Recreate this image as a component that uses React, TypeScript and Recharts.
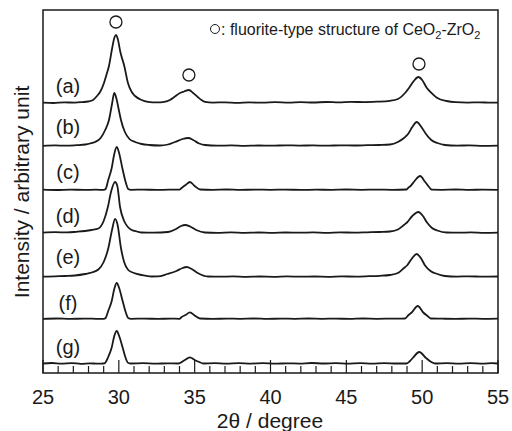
import React from 'react';
import { ComposedChart, Line, XAxis, YAxis, ReferenceArea, ReferenceDot } from 'recharts';

const FONT = '"Liberation Sans", Arial, sans-serif';
const INK = '#1a1a1a';

// sample labels, vertical offsets (arbitrary intensity units) and label heights
const sampleNames = ['(a)', '(b)', '(c)', '(d)', '(e)', '(f)', '(g)'];
const offsets = [270, 227, 183, 140, 96, 54, 9];
const labelY = [287, 246, 201, 157, 116, 70, 26];
const labelX = 26.65;

// [2θ, intensity above own baseline]
const patternA: [number, number][] = [
  [25, 0.3], [25.7, 0], [26.4, 0.6], [27.1, 0.4], [27.6, 0.9], [27.97, 1.5], [28.3, 3], [28.56, 7],
  [28.8, 12], [29.02, 20], [29.2, 29], [29.35, 37], [29.55, 54], [29.7, 65], [29.81, 68], [29.93, 64],
  [30.1, 51], [30.36, 37], [30.6, 20], [30.85, 11], [31.07, 7], [31.5, 3], [31.92, 1.2], [32.5, 0.6],
  [33.0, 1.2], [33.37, 3], [33.7, 6.5], [34.03, 10], [34.3, 11.5], [34.62, 13], [34.9, 10], [35.2, 6],
  [35.45, 3], [35.68, 1.2], [36.2, 0.4], [37, 0.7], [37.8, 0.2], [38.6, 0.6], [39.5, 0.3], [40.3, 0.8],
  [41.2, 0.4], [42, 0.9], [42.8, 0.5], [43.7, 1], [44.5, 0.6], [45.3, 1.1], [46.2, 0.9], [47.0, 1.3],
  [47.88, 2.2], [48.4, 4], [48.87, 10], [49.13, 15], [49.45, 22], [49.75, 26], [50.0, 23], [50.31, 15],
  [50.62, 10], [51.0, 5], [51.61, 2], [52.2, 0.8], [53, 0.4], [53.8, 0.7], [54.5, 0.3], [55, 0.4],
];
const patternB: [number, number][] = [
  [25, 0.2], [25.8, 0.6], [26.5, 0.3], [27.2, 0.8], [27.8, 1.5], [28.1, 2.5], [28.43, 4], [28.8, 8],
  [29.1, 16], [29.35, 26], [29.55, 42], [29.7, 53], [29.85, 47], [30.0, 36], [30.14, 26], [30.4, 14],
  [30.7, 7], [31.07, 4], [31.5, 2], [32.0, 1], [32.7, 0.5], [33.24, 1.5], [33.7, 4], [34.2, 7],
  [34.58, 8], [34.9, 6], [35.3, 2.5], [35.68, 1], [36.5, 0.3], [37.4, 0.6], [38.3, 0.2], [39.2, 0.5],
  [40.1, 0.3], [41, 0.7], [41.9, 0.4], [42.8, 0.6], [43.7, 0.3], [44.6, 0.7], [45.5, 0.5], [46.4, 0.8],
  [47.2, 1], [47.88, 1.5], [48.4, 4], [48.8, 8], [49.07, 12], [49.35, 19], [49.64, 24], [49.95, 19],
  [50.25, 12], [50.6, 6], [51.0, 3], [51.5, 1], [52.3, 0.4], [53.1, 0.6], [54, 0.2], [55, 0.4],
];
const patternC: [number, number][] = [
  [25, 0.3], [25.9, 0], [26.8, 0.4], [27.7, 0.1], [28.5, 0.3], [29.0, 0.1], [29.13, 1], [29.3, 10],
  [29.53, 22], [29.7, 36], [29.86, 43], [30.0, 38], [30.23, 22], [30.45, 8], [30.62, 1], [30.8, 0.2],
  [31.6, 0.4], [32.5, 0.1], [33.3, 0.3], [34.0, 0.3], [34.14, 2], [34.4, 5], [34.69, 8], [35.0, 4],
  [35.35, 0.5], [36.2, 0.2], [37.1, 0.5], [38, 0.1], [39, 0.4], [40, 0.2], [41, 0.4], [42, 0.1],
  [43, 0.3], [44, 0.2], [45, 0.5], [46, 0.2], [47, 0.4], [48, 0.2], [48.97, 0.5], [49.1, 2.5],
  [49.2, 3.5], [49.5, 9], [49.86, 14], [50.2, 8], [50.51, 2], [50.62, 0.3], [51.3, 0.2], [52.2, 0.5],
  [53.1, 0.1], [54, 0.4], [55, 0.2],
];
const patternD: [number, number][] = [
  [25, 0.4], [25.8, 0.8], [26.6, 0.6], [27.2, 1.2], [27.77, 2], [28.2, 3], [28.65, 4.5], [29.0, 12],
  [29.27, 25.5], [29.5, 42], [29.75, 51], [29.9, 47], [30.08, 26], [30.35, 12], [30.6, 6], [30.85, 3],
  [31.2, 1.5], [31.51, 0.5], [32.3, 0.3], [33.24, 1], [33.7, 3.5], [34.1, 7], [34.36, 8], [34.7, 6.5],
  [35.1, 3], [35.68, 0.5], [36.5, 0.2], [37.4, 0.6], [38.3, 0.2], [39.2, 0.5], [40.1, 0.1], [41, 0.5],
  [41.9, 0.3], [42.8, 0.6], [43.7, 0.2], [44.6, 0.6], [45.5, 0.4], [46.4, 0.7], [47.2, 1], [47.88, 1.5],
  [48.4, 3.5], [48.8, 8], [49.0, 10.5], [49.35, 17], [49.75, 21], [50.05, 17], [50.32, 10.5], [50.65, 5],
  [51.0, 2.5], [51.62, 0.5], [52.4, 0.3], [53.2, 0.6], [54.1, 0.2], [55, 0.4],
];
const patternE: [number, number][] = [
  [25, 0.3], [25.8, 0.7], [26.5, 1], [27.1, 1.5], [27.77, 3], [28.2, 4.5], [28.65, 7.5], [29.0, 15],
  [29.31, 29], [29.55, 47], [29.75, 58], [29.92, 52], [30.14, 29], [30.35, 15], [30.62, 7], [31.0, 4],
  [31.5, 2], [32.17, 0.5], [32.58, 0.6], [33.2, 3], [33.8, 6], [34.2, 9], [34.47, 10], [34.8, 8],
  [35.2, 4], [35.88, 0.5], [36.7, 0.3], [37.5, 0.6], [38.4, 0.2], [39.3, 0.5], [40.2, 0.2], [41.1, 0.6],
  [42, 0.3], [42.9, 0.5], [43.8, 0.2], [44.7, 0.6], [45.6, 0.4], [46.5, 0.8], [47.2, 1.2], [47.88, 2],
  [48.4, 4], [48.8, 9], [49.0, 11.5], [49.3, 18], [49.64, 23], [49.95, 18], [50.19, 11.5], [50.55, 6],
  [51.0, 3], [51.5, 1], [52.3, 0.4], [53.1, 0.7], [54, 0.3], [55, 0.5],
];
const patternF: [number, number][] = [
  [25, 0.2], [25.9, 0.5], [26.8, 0.1], [27.7, 0.4], [28.5, 0.2], [29.0, 0.1], [29.13, 1], [29.3, 8],
  [29.53, 18], [29.7, 30], [29.86, 36], [30.02, 31], [30.25, 18], [30.45, 7], [30.62, 1], [30.8, 0.2],
  [31.7, 0.4], [32.6, 0.1], [33.4, 0.4], [34.0, 0.2], [34.14, 2], [34.4, 4], [34.69, 6.7], [35.0, 3.5],
  [35.35, 0.5], [36.2, 0.1], [37.1, 0.4], [38, 0.2], [38.9, 0.5], [39.8, 0.1], [40.7, 0.4], [41.6, 0.2],
  [42.5, 0.5], [43.4, 0.2], [44.3, 0.4], [45.2, 0.1], [46.1, 0.5], [47, 0.2], [48, 0.4], [48.87, 0.5],
  [49.1, 4], [49.31, 6.5], [49.71, 13], [50.07, 6.5], [50.35, 3], [50.56, 0.5], [51.3, 0.3], [52.2, 0.1],
  [53.1, 0.4], [54, 0.2], [55, 0.3],
];
const patternG: [number, number][] = [
  [25, 0.5], [25.6, 1], [26.2, 0.3], [26.9, 0.9], [27.5, 0.2], [28.1, 0.7], [28.6, 0.3], [29.0, 0.5],
  [29.09, 1], [29.3, 7], [29.53, 16.5], [29.7, 28], [29.86, 33], [30.02, 28], [30.25, 16.5], [30.45, 6],
  [30.62, 1], [30.8, 0.5], [31.6, 0.8], [32.4, 0.3], [33.2, 0.7], [33.92, 0.5], [34.3, 3.5], [34.69, 6.7],
  [35.0, 4], [35.3, 2], [35.57, 0.5], [36.3, 0.8], [37.1, 0.3], [37.9, 0.9], [38.7, 0.4], [39.5, 0.8],
  [40.3, 0.3], [41.1, 0.7], [41.9, 0.4], [42.7, 1], [43.5, 0.5], [44.3, 0.9], [45.1, 0.4], [45.9, 0.8],
  [46.7, 0.3], [47.5, 0.9], [48.3, 0.5], [48.98, 0.5], [49.2, 3], [49.38, 6], [49.81, 12], [50.25, 6],
  [50.6, 2], [50.85, 0.5], [51.6, 0.9], [52.4, 0.3], [53.2, 0.8], [54, 0.4], [54.6, 0.9], [55, 0.5],
];
const patterns = [patternA, patternB, patternC, patternD, patternE, patternF, patternG];

// fluorite peak markers (open circles)
const peakMarks = [
  { x: 29.81, y: 351 },
  { x: 34.62, y: 298 },
  { x: 49.79, y: 309 },
];

const xTicks = [25, 26, 27, 28, 29, 30, 31, 32, 33, 34, 35, 36, 37, 38, 39, 40,
  41, 42, 43, 44, 45, 46, 47, 48, 49, 50, 51, 52, 53, 54, 55];
const majorTicks = [25, 30, 35, 40, 45, 50, 55];

const AxisTick = (props: any) => {
  const { x, y, payload } = props;
  const major = majorTicks.includes(payload.value);
  return (
    <g>
      <line x1={x} x2={x} y1={y} y2={y - (major ? 13 : 7)} stroke={INK} strokeWidth={1.2} />
      {major && (
        <text x={x} y={y + 31} textAnchor="middle" fontSize={20} fontFamily={FONT} fill={INK}>
          {payload.value}
        </text>
      )}
    </g>
  );
};

export default function App() {
  const series = patterns.map((p, i) => p.map(([x, v]) => ({ x, [`s${i}`]: v + offsets[i] })));

  return (
    <div style={{ position: 'absolute', left: 0, top: 0, width: 512, height: 431, background: '#fff' }}>
      <ComposedChart width={512} height={431} margin={{ top: 10, right: 14, bottom: 0, left: 43 }}>
        <XAxis
          dataKey="x"
          type="number"
          domain={[25, 55]}
          ticks={xTicks}
          interval={0}
          height={58}
          axisLine={false}
          tickLine={false}
          tickSize={0}
          tickMargin={0}
          tick={<AxisTick />}
          allowDataOverflow
        />
        <YAxis hide type="number" domain={[0, 363]} allowDataOverflow />
        <ReferenceArea x1={25} x2={55} y1={0} y2={363} fill="none" stroke={INK} strokeWidth={1.5} ifOverflow="visible" />
        {series.map((rows, i) => (
          <Line
            key={sampleNames[i]}
            data={rows}
            dataKey={`s${i}`}
            type="monotone"
            dot={false}
            stroke={INK}
            strokeWidth={1.8}
            isAnimationActive={false}
          />
        ))}
        {peakMarks.map((m, i) => (
          <ReferenceDot key={`pk${i}`} x={m.x} y={m.y} r={6} fill="none" stroke={INK} strokeWidth={1.3} />
        ))}
        {sampleNames.map((name, i) => (
          <ReferenceDot
            key={`lb${i}`}
            x={labelX}
            y={labelY[i]}
            r={1}
            fill="none"
            stroke="none"
            label={{ value: name, position: 'center', fontSize: 20, fill: INK, fontFamily: FONT }}
          />
        ))}
        <text
          transform="translate(21,192) rotate(-90)"
          textAnchor="middle"
          dominantBaseline="central"
          fontSize={21}
          fontFamily={FONT}
          fill={INK}
        >
          Intensity / arbitrary unit
        </text>
        <text x={270} y={428} textAnchor="middle" fontSize={21} fontFamily={FONT} fill={INK}>
          2θ / degree
        </text>
        <circle cx={215} cy={29} r={4.5} fill="none" stroke={INK} strokeWidth={1} />
        <text x={221} y={35} fontSize={16} fontFamily={FONT} fill={INK}>
          <tspan>: fluorite-type structure of CeO</tspan>
          <tspan fontSize={11} dy={4}>2</tspan>
          <tspan dy={-4}>-ZrO</tspan>
          <tspan fontSize={11} dy={4}>2</tspan>
        </text>
      </ComposedChart>
    </div>
  );
}
